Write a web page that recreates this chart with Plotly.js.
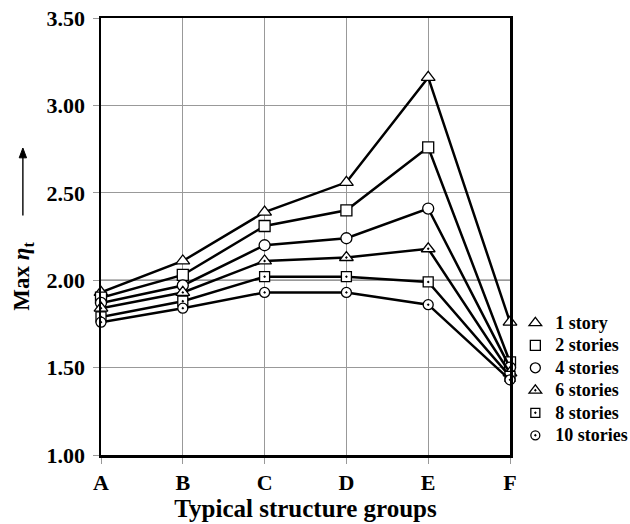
<!DOCTYPE html>
<html>
<head>
<meta charset="utf-8">
<script src="https://cdn.plot.ly/plotly-3.0.1.min.js"></script>
<style>html,body{margin:0;padding:0;background:#fff;}#chart{width:630px;height:524px;}</style>
</head>
<body>
<div id="chart"></div>
<script>
const categories = ['A', 'B', 'C', 'D', 'E', 'F'];
const seriesNames = ['1 story', '2 stories', '4 stories', '6 stories', '8 stories', '10 stories'];
const story1 = [1.93, 2.11, 2.39, 2.56, 3.16, 1.76];
const stories2 = [1.90, 2.03, 2.31, 2.40, 2.76, 1.53];
const stories4 = [1.87, 1.97, 2.20, 2.24, 2.41, 1.50];
const stories6 = [1.84, 1.93, 2.11, 2.13, 2.18, 1.47];
const stories8 = [1.79, 1.88, 2.02, 2.02, 1.99, 1.45];
const stories10 = [1.76, 1.84, 1.93, 1.93, 1.86, 1.43];
const yTickVals = [1.0, 1.5, 2.0, 2.5, 3.0, 3.5];
const yTickText = ['1.00', '1.50', '2.00', '2.50', '3.00', '3.50'];
const darkGridValue = 2.0;

const allSeries = [story1, stories2, stories4, stories6, stories8, stories10];
const symbols = ['triangle-up', 'square', 'circle', 'triangle-up-dot', 'square-dot', 'circle-dot'];
const sizes = [12, 11, 11, 12, 10, 10];
const serif = 'Liberation Serif, Times New Roman, serif';

const traces = [];
allSeries.forEach((ys, i) => {
  traces.push({
    x: categories, y: ys, type: 'scatter', mode: 'lines+markers',
    name: seriesNames[i], showlegend: false, cliponaxis: false,
    line: {color: '#000', width: 2.5},
    marker: {symbol: symbols[i], size: sizes[i], color: '#fff', line: {color: '#000', width: 1.3}}
  });
});
allSeries.forEach((ys, i) => {
  traces.push({
    x: [null], y: [null], type: 'scatter', mode: 'markers',
    name: '<span style="font-size:18px">' + seriesNames[i] + '</span>', showlegend: true,
    marker: {symbol: symbols[i], size: sizes[i] - 1, color: '#fff', line: {color: '#000', width: 1.3}}
  });
});

const layout = {
  width: 630, height: 524,
  margin: {l: 101, r: 120, t: 18, b: 69, autoexpand: false},
  paper_bgcolor: '#fff', plot_bgcolor: '#fff',
  font: {family: serif, color: '#000'},
  xaxis: {
    type: 'category', range: [0, 5], automargin: false,
    showline: true, linecolor: '#000', linewidth: 2.5, mirror: true,
    showgrid: true, gridcolor: '#999', gridwidth: 1, zeroline: false,
    ticks: 'outside', ticklen: 6, tickcolor: '#999', tickwidth: 1,
    ticklabelstandoff: 0,
    tickfont: {family: serif, size: 22, weight: 'bold', color: '#000'},
    title: {text: 'Typical structure groups', font: {family: serif, size: 25, weight: 'bold', color: '#000'}, standoff: 5}
  },
  yaxis: {
    range: [1, 3.5], tickvals: yTickVals, ticktext: yTickText, automargin: false,
    showline: true, linecolor: '#000', linewidth: 2.5, mirror: true,
    showgrid: true, gridcolor: '#999', gridwidth: 1, zeroline: false,
    ticks: 'outside', ticklen: 6, tickcolor: '#999', tickwidth: 1,
    ticklabelstandoff: 3,
    tickfont: {family: serif, size: 22, weight: 'bold', color: '#000'}
  },
  legend: {
    xref: 'container', yref: 'container',
    x: 0.818, xanchor: 'left', y: 0.415, yanchor: 'top',
    bgcolor: 'rgba(0,0,0,0)', borderwidth: 0,
    font: {family: serif, size: 15, weight: 'bold', color: '#000'},
    itemwidth: 30, tracegroupgap: 0
  },
  shapes: [
    {type: 'line', xref: 'paper', yref: 'y', x0: 0, x1: 1, y0: darkGridValue, y1: darkGridValue,
     line: {color: '#222', width: 1}, layer: 'below'},
    {type: 'line', xref: 'paper', yref: 'paper', x0: -0.191, x1: -0.191, y0: 0.548, y1: 0.69,
     line: {color: '#000', width: 1.4}},
    {type: 'path', xref: 'paper', yref: 'paper',
     path: 'M -0.2, 0.68 L -0.182, 0.68 L -0.191, 0.7025 Z',
     fillcolor: '#000', line: {color: '#000', width: 1}}
  ],
  annotations: [
    {xref: 'paper', yref: 'paper', x: -0.191, y: 0.41, textangle: -90, showarrow: false,
     text: 'Max <i>η</i><sub>t</sub>', font: {family: serif, size: 23, weight: 'bold', color: '#000'},
     xanchor: 'center', yanchor: 'middle'}
  ]
};

Plotly.newPlot('chart', traces, layout, {displayModeBar: false, staticPlot: true});
</script>
</body>
</html>
